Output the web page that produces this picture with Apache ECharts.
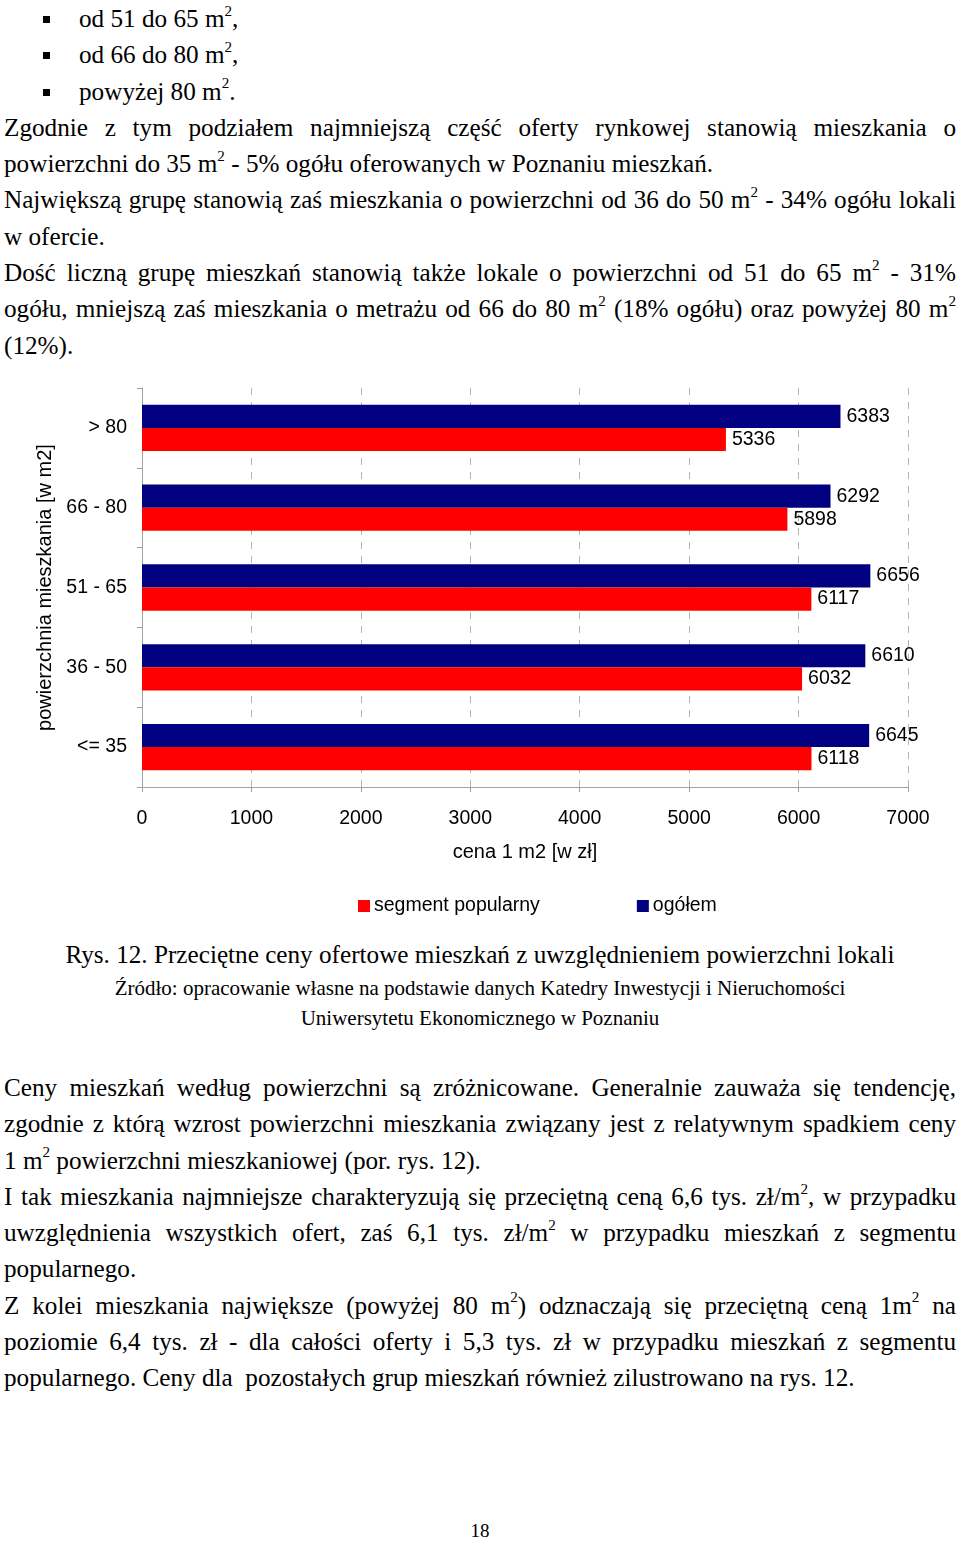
<!DOCTYPE html>
<html>
<head>
<meta charset="utf-8">
<title>Rys. 12</title>
<script src="https://cdn.jsdelivr.net/npm/echarts@6/dist/echarts.min.js"></script>
<style>
	html, body { margin: 0; padding: 0; background: #fff; }
	body { width: 960px; height: 1541px; position: relative; overflow: hidden;
		font-family: 'Liberation Serif', 'Times New Roman', serif; color: #000; }
	.txt { position: absolute; left: 4px; width: 952px; font-size: 25.2px; line-height: 36.3px; }
	.ln { white-space: nowrap; height: 36.3px; }
	.j { text-align: justify; text-align-last: justify; white-space: normal; }
	.b { position: relative; padding-left: 75px; }
	.b:before { content: ''; position: absolute; left: 39px; top: 15px; width: 7px; height: 7px; background: #000; }
	sup { font-size: 0.6em; line-height: 0; vertical-align: baseline; position: relative; top: -0.75em; }
	.cap { position: absolute; left: 0; width: 960px; text-align: center; }
	#chart { position: absolute; left: 0; top: 370px; width: 960px; height: 560px; }
</style>
</head>
<body>
<div class="txt" style="top:1px">
	<div class="ln b">od 51 do 65 m<sup>2</sup>,</div>
	<div class="ln b">od 66 do 80 m<sup>2</sup>,</div>
	<div class="ln b">powyżej 80 m<sup>2</sup>.</div>
	<div class="ln j">Zgodnie z tym podziałem najmniejszą część oferty rynkowej stanowią mieszkania o</div>
	<div class="ln">powierzchni do 35 m<sup>2</sup> - 5% ogółu oferowanych w Poznaniu mieszkań.</div>
	<div class="ln j">Największą grupę stanowią zaś mieszkania o powierzchni od 36 do 50 m<sup>2</sup> - 34% ogółu lokali</div>
	<div class="ln">w ofercie.</div>
	<div class="ln j">Dość liczną grupę mieszkań stanowią także lokale o powierzchni od 51 do 65 m<sup>2</sup> - 31%</div>
	<div class="ln j">ogółu, mniejszą zaś mieszkania o metrażu od 66 do 80 m<sup>2</sup> (18% ogółu) oraz powyżej 80 m<sup>2</sup></div>
	<div class="ln">(12%).</div>
</div>

<div id="chart"></div>

<div class="cap" style="top:940px; font-size:25.2px; line-height:30px;">Rys. 12. Przeciętne ceny ofertowe mieszkań z uwzględnieniem powierzchni lokali</div>
<div class="cap" style="top:973px; font-size:21px; line-height:30px;">Źródło: opracowanie własne na podstawie danych Katedry Inwestycji i Nieruchomości<br>Uniwersytetu Ekonomicznego w Poznaniu</div>

<div class="txt" style="top:1070px">
	<div class="ln j">Ceny mieszkań według powierzchni są zróżnicowane. Generalnie zauważa się tendencję,</div>
	<div class="ln j">zgodnie z którą wzrost powierzchni mieszkania związany jest z relatywnym spadkiem ceny</div>
	<div class="ln">1 m<sup>2</sup> powierzchni mieszkaniowej (por. rys. 12).</div>
	<div class="ln j">I tak mieszkania najmniejsze charakteryzują się przeciętną ceną 6,6 tys. zł/m<sup>2</sup>, w przypadku</div>
	<div class="ln j">uwzględnienia wszystkich ofert, zaś 6,1 tys. zł/m<sup>2</sup> w przypadku mieszkań z segmentu</div>
	<div class="ln">popularnego.</div>
	<div class="ln j">Z kolei mieszkania największe (powyżej 80 m<sup>2</sup>) odznaczają się przeciętną ceną 1m<sup>2</sup> na</div>
	<div class="ln j">poziomie 6,4 tys. zł - dla całości oferty i 5,3 tys. zł w przypadku mieszkań z segmentu</div>
	<div class="ln">popularnego. Ceny dla&nbsp; pozostałych grup mieszkań również zilustrowano na rys. 12.</div>
</div>

<div class="cap" style="top:1518px; font-size:19px; line-height:26px;">18</div>

<script>
	// dane z wykresu (cena 1 m2 w zł)
	const categories = ['<= 35', '36 - 50', '51 - 65', '66 - 80', '> 80'];
	const popularny = [6118, 6032, 6117, 5898, 5336];
	const ogolem = [6645, 6610, 6656, 6292, 6383];
	const seriesNames = ['segment popularny', 'ogółem'];
	const seriesColors = ['#ff0000', '#000080'];

	const font = 'Liberation Sans';
	const gray = '#a0a0a0';

	function barSeries(name, data, color) {
		return {
			name: name,
			type: 'bar',
			data: data,
			barGap: '0%',
			barCategoryGap: '42%',
			itemStyle: { color: color },
			label: {
				show: true,
				position: 'right',
				distance: 6,
				color: '#000',
				fontFamily: font,
				fontSize: 19.5
			},
			silent: true,
			animation: false
		};
	}

	let option = {
		textStyle: { fontFamily: font },
		legend: {
			left: 353,
			top: 521,
			itemWidth: 12,
			itemHeight: 12,
			itemGap: 97,
			icon: 'rect',
			textStyle: { fontFamily: font, fontSize: 19.5, color: '#000', padding: [0, 0, 0, -1] },
			data: seriesNames
		},
		grid: { left: 142, top: 18, width: 766, height: 399, containLabel: false },
		xAxis: {
			type: 'value',
			min: 0,
			max: 7000,
			interval: 1000,
			name: 'cena 1 m2 [w zł]',
			nameLocation: 'middle',
			nameGap: 55,
			nameTextStyle: { fontFamily: font, fontSize: 20, color: '#000' },
			axisLine: { show: true, lineStyle: { color: gray, width: 1 } },
			axisTick: { show: true, length: 5, lineStyle: { color: gray } },
			axisLabel: { margin: 22, fontFamily: font, fontSize: 19.5, color: '#000', formatter: v => String(v) },
			splitLine: { show: true, lineStyle: { color: '#b4b4b4', type: [7, 7], width: 1 } }
		},
		yAxis: {
			type: 'category',
			data: categories,
			name: 'powierzchnia mieszkania [w m2]',
			nameLocation: 'middle',
			nameGap: 87,
			nameTextStyle: { fontFamily: font, fontSize: 20, color: '#000' },
			axisLine: { show: true, lineStyle: { color: gray, width: 1 } },
			axisTick: { show: true, length: 5, lineStyle: { color: gray } },
			axisLabel: { margin: 15, fontFamily: font, fontSize: 19.5, color: '#000' },
			splitLine: { show: false }
		},
		// ogółem first so it sits above segment popularny in each band
		series: [
			barSeries(seriesNames[1], ogolem, seriesColors[1]),
			barSeries(seriesNames[0], popularny, seriesColors[0])
		]
	};

	let myChart = echarts.init(document.getElementById('chart'));
	myChart.setOption(option);
</script>
</body>
</html>
